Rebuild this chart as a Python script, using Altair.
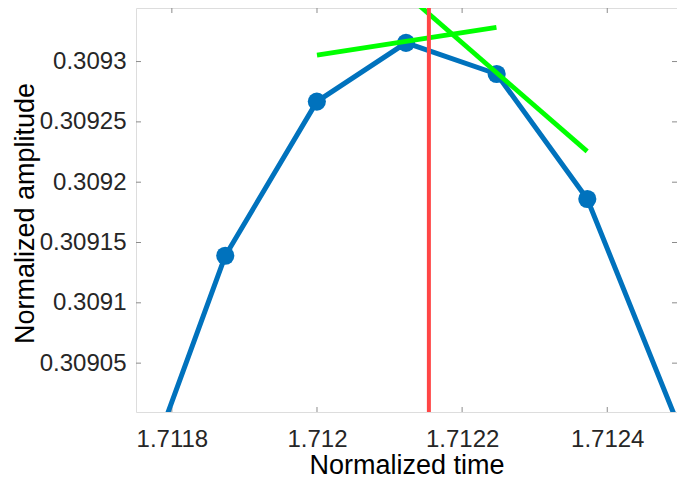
import altair as alt
import pandas as pd

# ---- data ----
time = [1.711751, 1.7118736, 1.7119998, 1.7121227, 1.7122476, 1.7123725, 1.712495]
amplitude = [0.3089372, 0.309139, 0.3092668, 0.3093155, 0.3092897, 0.3091861, 0.3090031]

tangent_t_start = [1.7120000, 1.7121378]
tangent_a_start = [0.3093054, 0.3093481]
tangent_t_end = [1.7122473, 1.7123723]
tangent_a_end = [0.3093283, 0.3092255]

peak_time = [1.7121542]

x_ticks = [1.7118, 1.712, 1.7122, 1.7124]
y_ticks = [0.30905, 0.3091, 0.30915, 0.3092, 0.30925, 0.3093]

x_domain = [1.7117506, 1.7124961]
y_domain = [0.3090095, 0.3093444]

W, H = 541, 404
BOX = "#8c8c8c"
FONT = "Liberation Sans"

signal = pd.DataFrame({"time": time, "amp": amplitude})
tangents = pd.DataFrame({"time": tangent_t_start, "amp": tangent_a_start,
                         "time2": tangent_t_end, "amp2": tangent_a_end})
peak = pd.DataFrame({"time": peak_time})
xt = pd.DataFrame({"time": x_ticks})
yt = pd.DataFrame({"amp": y_ticks})

xscale = alt.Scale(domain=x_domain, nice=False, zero=False)
yscale = alt.Scale(domain=y_domain, nice=False, zero=False)

xaxis = alt.Axis(values=x_ticks, format=".4~f", grid=False, ticks=False, tickSize=0,
                 domain=False, labelFont=FONT, labelFontSize=24, labelColor="#262626",
                 labelPadding=15, labelFlush=False, labelOverlap=False,
                 titleFont=FONT, titleFontSize=27, titleFontWeight="normal",
                 titleColor="#000000", titleY=61, titleBaseline="alphabetic")
yaxis = alt.Axis(values=y_ticks, format=".5~f", grid=False, ticks=False, tickSize=0,
                 domain=False, labelFont=FONT, labelFontSize=24, labelColor="#262626",
                 labelPadding=10, labelFlush=False, labelOverlap=False,
                 titleFont=FONT, titleFontSize=27, titleFontWeight="normal",
                 titleColor="#000000", titleX=-103, titleY=205, titleAngle=270,
                 titleAlign="center", titleBaseline="alphabetic")


def X(field="time"):
    return alt.X(f"{field}:Q", scale=xscale, axis=xaxis, title="Normalized time")


def Y(field="amp"):
    return alt.Y(f"{field}:Q", scale=yscale, axis=yaxis, title="Normalized amplitude")


line = alt.Chart(signal).mark_line(color="#0072BD", strokeWidth=5, clip=True).encode(
    x=X(), y=Y())

dots = alt.Chart(signal).transform_filter(
    alt.FieldRangePredicate(field="amp", range=y_domain)
).mark_circle(color="#0072BD", size=330, opacity=1, clip=True).encode(x=X(), y=Y())

green = alt.Chart(tangents).mark_rule(color="#00FF00", strokeWidth=4.8, clip=True).encode(
    x=X(), y=Y(), x2="time2:Q", y2="amp2:Q")

red = alt.Chart(peak).mark_rule(color="#FF4545", strokeWidth=4, clip=True).encode(x=X())

tick_bottom = alt.Chart(xt).mark_rule(color=BOX, strokeWidth=1).encode(
    x=X(), y=alt.value(H), y2=alt.value(H - 5))
tick_top = alt.Chart(xt).mark_rule(color=BOX, strokeWidth=1).encode(
    x=X(), y=alt.value(0), y2=alt.value(5))
tick_left = alt.Chart(yt).mark_rule(color=BOX, strokeWidth=1).encode(
    y=Y(), x=alt.value(0), x2=alt.value(5))
tick_right = alt.Chart(yt).mark_rule(color=BOX, strokeWidth=1).encode(
    y=Y(), x=alt.value(W), x2=alt.value(W - 5))

chart = alt.layer(
    tick_bottom, tick_top, tick_left, tick_right, line, dots, green, red
).properties(
    width=W, height=H,
    autosize=alt.AutoSizeParams(type="none"),
    padding={"left": 128, "top": 0, "right": 0, "bottom": 66},
).configure_view(stroke=BOX, strokeWidth=1).configure(background="white")

chart.save("out.html", embed_options={"renderer": "svg", "actions": False})
